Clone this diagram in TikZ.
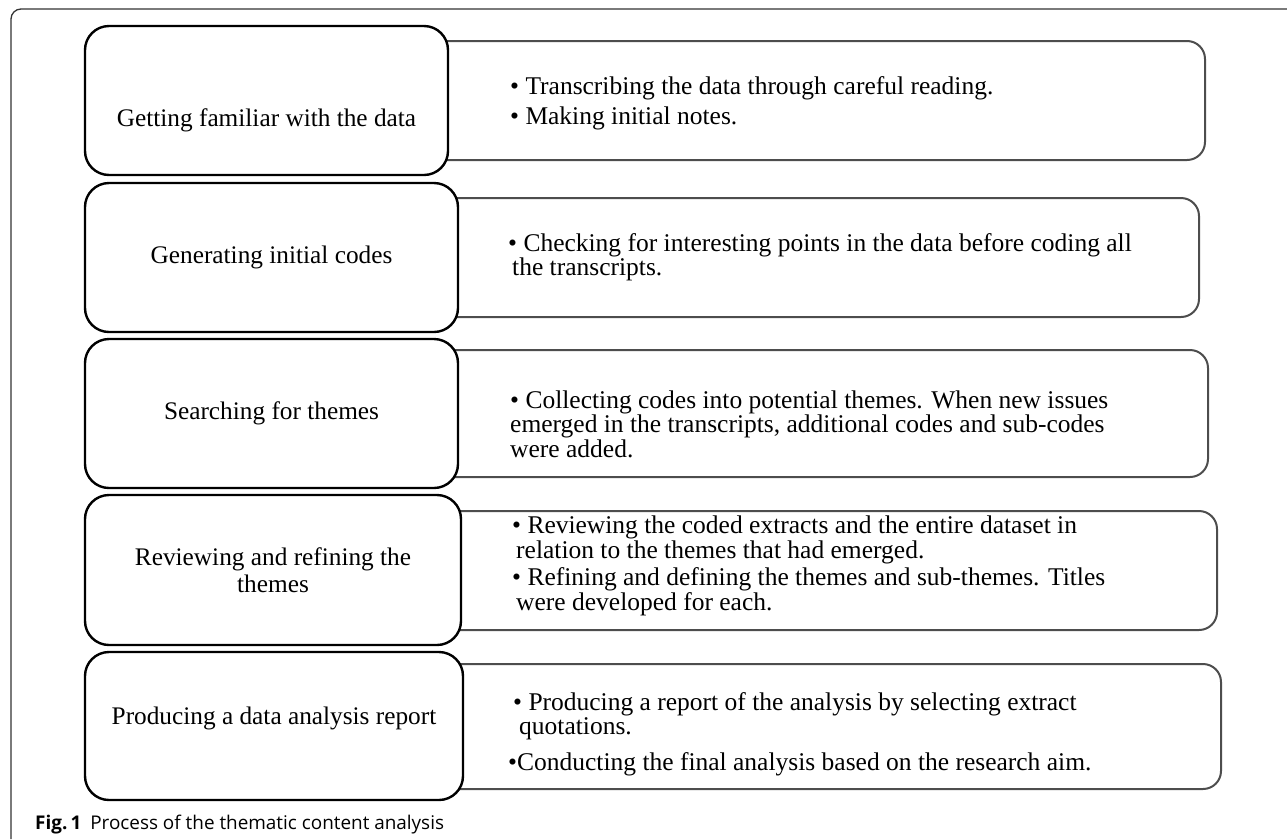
\documentclass[tikz,border=0pt]{standalone}
\usepackage{fontspec}
\setmainfont{Liberation Serif}
\newfontfamily\capfont{Open Sans}
\definecolor{boxgray}{HTML}{4D4D4D}
\definecolor{framegray}{HTML}{333333}
\begin{document}
\begin{tikzpicture}[x=1pt,y=-1pt,
  stagebox/.style={draw=black,line width=2.4pt,rounded corners=24pt,fill=white,inner sep=0pt},
  detailbox/.style={draw=boxgray,line width=2pt,rounded corners=18pt,fill=white,inner sep=0pt},
  stagetext/.style={inner sep=0pt,align=center,font=\fontsize{25.3}{27}\selectfont},
  itemtext/.style={anchor=base west,inner sep=0pt,align=left,font=\fontsize{25.5}{24.5}\selectfont},
]
\useasboundingbox (0,0) rectangle (1287,839);
% outer frame
\draw[framegray,line width=1.3pt,rounded corners=10pt] (11,839) -- (11,9) -- (1287,9);

% right (detail) boxes, drawn first
\node[detailbox,minimum width=787pt,minimum height=119pt] (r1) at (811.5,100.5) {};
\node[detailbox,minimum width=771pt,minimum height=119pt] (r2) at (813.5,257.5) {};
\node[detailbox,minimum width=780pt,minimum height=127pt] (r3) at (818,413.5) {};
\node[detailbox,minimum width=786pt,minimum height=119pt] (r4) at (824,570.5) {};
\node[detailbox,minimum width=788pt,minimum height=125pt] (r5) at (827,726.5) {};

% left (stage) boxes
\node[stagebox,minimum width=363pt,minimum height=149pt] (s1) at (266.5,100.5) {};
\node[stagebox,minimum width=373pt,minimum height=149pt] (s2) at (271.5,257.5) {};
\node[stagebox,minimum width=373pt,minimum height=149pt] (s3) at (271.5,413.5) {};
\node[stagebox,minimum width=376pt,minimum height=150pt] (s4) at (273,570) {};
\node[stagebox,minimum width=378pt,minimum height=148pt] (s5) at (274,726) {};

% stage labels
\node[stagetext] (t1) at (266.5,120) {Getting familiar with the data};
\node[stagetext] (t2) at (271.5,257.5) {Generating initial codes};
\node[stagetext] (t3) at (271.5,413.5) {Searching for themes};
\node[stagetext] (t4) at (273,570) {Reviewing and refining the\\themes};
\node[stagetext] (t5) at (274,718) {Producing a data analysis report};

% detail items (anchor = baseline of the last line)
\node[itemtext] (i1a) at (510,94) {• Transcribing the data through careful reading.};
\node[itemtext] (i1b) at (510,124) {• Making initial notes.};
\node[itemtext] (i2a) at (508,275.5) {• Checking for interesting points in the data before coding all\\\hspace{4pt}the transcripts.};
\node[itemtext] (i3a) at (510,457) {• Collecting codes into potential themes. When new issues\\emerged in the transcripts, additional codes and sub-codes\\were added.};
\node[itemtext] (i4a) at (512,558) {• Reviewing the coded extracts and the entire dataset in\\\hspace{4pt}relation to the themes that had emerged.};
\node[itemtext] (i4b) at (512,610) {• Refining and defining the themes and sub-themes. Titles\\\hspace{4pt}were developed for each.};
\node[itemtext] (i5a) at (513,734.5) {• Producing a report of the analysis by selecting extract\\\hspace{6pt}quotations.};
\node[itemtext] (i5b) at (508,770) {•Conducting the final analysis based on the research aim.};

% caption
\node[anchor=base west,inner sep=0pt,font=\capfont\fontsize{18.9}{22}\selectfont] (cap) at (35,829) {\textbf{Fig.\,1}\hspace{9pt}Process of the thematic content analysis};
\end{tikzpicture}
\end{document}
